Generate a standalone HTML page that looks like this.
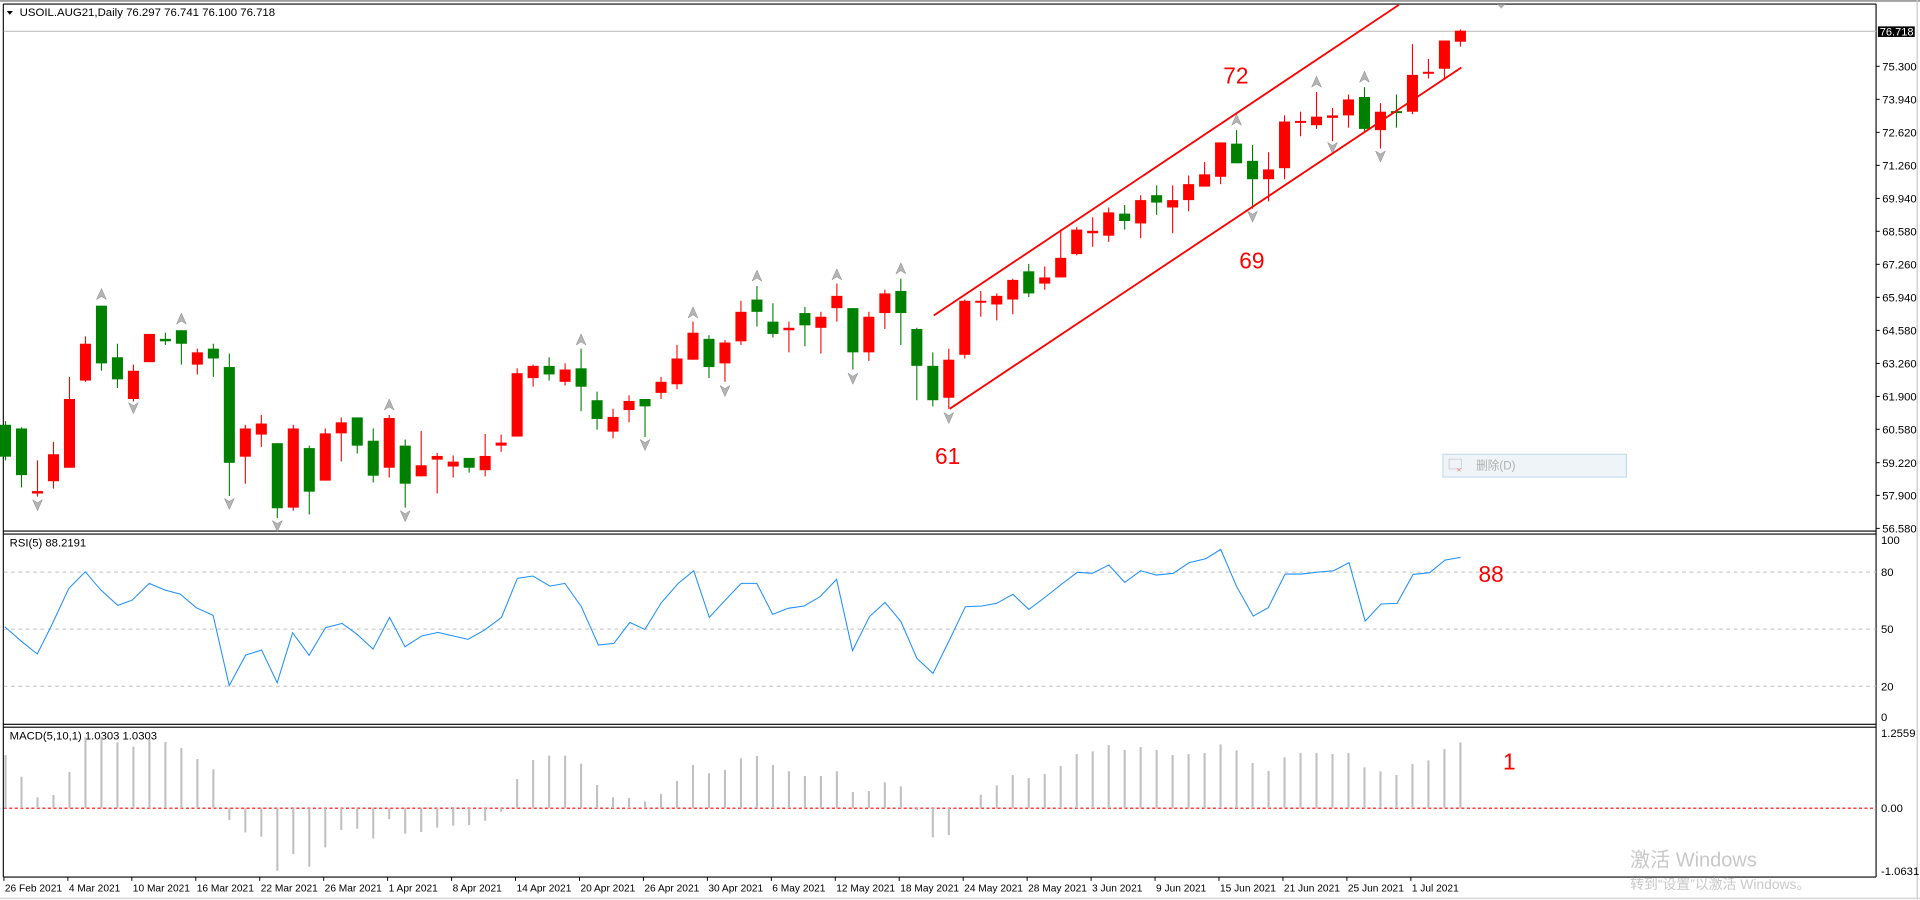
<!DOCTYPE html>
<html><head><meta charset="utf-8"><style>
html,body{margin:0;padding:0;background:#fff;width:1920px;height:900px;overflow:hidden}
svg{display:block}
text{font-family:"Liberation Sans","Noto Sans CJK SC",sans-serif}
</style></head><body>
<svg id="s" width="1920" height="900" viewBox="0 0 1564.8 733.1" preserveAspectRatio="none" xmlns="http://www.w3.org/2000/svg">
<rect x="0" y="0" width="1564.8" height="733.1" fill="#fff"/>
<line x1="0" y1="0.8" x2="1564.8" y2="0.8" stroke="#a0a0a0" stroke-width="1.5"/>
<line x1="2.7" y1="3.3" x2="1529" y2="3.3" stroke="#000" stroke-width="0.9"/>
<line x1="2.7" y1="3.3" x2="2.7" y2="714.4" stroke="#000" stroke-width="0.9"/>
<line x1="1529" y1="3.3" x2="1529" y2="714.4" stroke="#000" stroke-width="0.9"/>
<line x1="1562.5" y1="0" x2="1562.5" y2="733" stroke="#c8c8c8" stroke-width="1"/>
<line x1="2.7" y1="432.6" x2="1529" y2="432.6" stroke="#000" stroke-width="0.9"/>
<line x1="2.7" y1="435" x2="1529" y2="435" stroke="#000" stroke-width="0.9"/>
<line x1="2.7" y1="590" x2="1529" y2="590" stroke="#000" stroke-width="0.9"/>
<line x1="2.7" y1="592.3" x2="1529" y2="592.3" stroke="#000" stroke-width="0.9"/>
<line x1="2.7" y1="714.4" x2="1529" y2="714.4" stroke="#000" stroke-width="0.9"/>
<line x1="0" y1="731.8" x2="1564.8" y2="731.8" stroke="#d8d8d8" stroke-width="1.2"/>
<line x1="3" y1="25.5" x2="1529" y2="25.5" stroke="#c0c0c0" stroke-width="0.9"/>
<polygon points="5.5,9 10.5,9 8,12" fill="#000"/>
<text x="16" y="13" font-size="9.3" fill="#000">USOIL.AUG21,Daily  76.297 76.741 76.100 76.718</text>
<g stroke="#c0c0c0" stroke-width="0.8" stroke-dasharray="3,3">
<line x1="3" y1="466" x2="1529" y2="466"/><line x1="3" y1="512.5" x2="1529" y2="512.5"/><line x1="3" y1="559" x2="1529" y2="559"/>
</g>
<line x1="3" y1="658.3" x2="1529" y2="658.3" stroke="#ff0000" stroke-width="0.9" stroke-dasharray="2.5,2"/>
<text x="7.9" y="445" font-size="9.2" fill="#000">RSI(5) 88.2191</text>
<text x="7.9" y="602.5" font-size="9.2" fill="#000">MACD(5,10,1) 1.0303 1.0303</text>
<g id="g"></g>
<line x1="761" y1="257" x2="1140" y2="4" stroke="#ff0000" stroke-width="1.5"/>
<line x1="774" y1="333" x2="1191" y2="55" stroke="#ff0000" stroke-width="1.5"/>
<g fill="#ff0000" font-size="18.5">
<text x="997" y="68">72</text><text x="1010" y="218.7">69</text><text x="762" y="378">61</text>
<text x="1205" y="474">88</text><text x="1225" y="627">1</text>
</g>
<rect x="1530.5" y="21.5" width="30" height="8.6" fill="#000"/>
<text x="1532" y="28.8" font-size="9" fill="#fff">76.718</text>
<rect x="1176" y="370" width="149.5" height="18.6" fill="#eef4f7" stroke="#b9d7ea" stroke-width="0.8"/>
<rect x="1181" y="374" width="10" height="8" fill="none" stroke="#c8c8c8" stroke-width="0.6"/>
<text x="1187" y="385" font-size="7" fill="#f08080">×</text>
<text x="1203" y="382.5" font-size="9.5" fill="#b0b0b0">删除(D)</text>
<text x="1328.6" y="706" font-size="16.3" fill="#c8c8c8">激活 Windows</text>
<text x="1328.6" y="724" font-size="11.3" fill="#c8c8c8">转到“设置”以激活 Windows。</text>
<polygon points="1220,3.5 1227,3.5 1223.5,7" fill="#b0b0b0"/>
</svg>
<script>
var NS="http://www.w3.org/2000/svg",G=document.getElementById("g");
function el(t,a,txt){var e=document.createElementNS(NS,t);for(var k in a)e.setAttribute(k,a[k]);if(txt!=null)e.textContent=txt;G.appendChild(e);return e;}
function X(k){return 4.5+13.03*k;}
var C=[
['g',346,372,343,375],['g',349,387,348,397],['r',400,402,375,404.5],['r',370,392,360,398],['r',325,381,307,381],
['r',280,310,274,311],['g',249,296,249,302],['g',291,309,280,316],['r',302,325,297,327],['r',272,295,272,295],
['g',276,278,271,281],['g',269,280,269,297],['r',287,297,284,305],['g',284,292,280,307],['g',299,377,288,404],
['r',349,372,346,394],['r',345,354,338,364],['g',361,414,361,422],['r',349,413.5,346,416],['g',365,400.5,363,419],
['r',353,391.5,349,391.5],['r',344,353,340,376],['g',340,363,340,369.5],['g',359,387.5,349,393],['r',340.5,381,338,389],
['g',363,394,358,413.5],['r',379,388,351,388],['r',371.4,374.4,369,402],['r',376,380,371,389],['g',373,381,373,385],
['r',371.4,383,353.5,388],['r',360.5,363,354,368],['r',304,355.6,300,355.6],['r',298,308,297,315],['g',298,305,291,310],
['r',301,311,296,314],['g',300,315,284,335],['g',326,341.3,319,350],['r',339.6,351.6,333,357],['r',326.6,334,322,344],
['g',325,331,325,356],['r',311,320,307,325],['r',292,313,281,317],['r',271,293,262,293],['g',276,299,273,308],
['r',279,296,277,311],['r',254,278,245,281],['g',244,254,233,266],['g',262,272,247,275],['r',267,269,262,287],
['g',255,265,250,282],['r',258,267,254,288],['r',241,251,231,262],['g',251,287,251,301],['r',258,287,254,294],
['r',239,255,236,268],['g',237,255,227,281],['g',268,298,267,326],['g',298,326,287,331],['r',293,324,284,333],
['r',245,289,244,292],['r',245,246.5,237,258],['r',241,248,239,261],['r',228,244,227,256],['g',221,239,215,242],
['r',226,231,217,236],['r',210,226,187,226],['r',187,207,185,208],['r',188,190,177,201],['r',173,192,169,197],
['g',174,180,167,187],['r',163,182,159,194],['g',159,165,151,175],['r',163,169,151,190],['r',150,163,143,172],
['r',142,152,132,152],['r',116,144,116,150],['g',117,133,106,133],['g',131,146,118,170],['r',138,146,124,164],
['r',99,137,94,146],['r',98.5,100,91,111],['r',95,102,75,105],['r',94,96,88,115],['r',81,94,77,104],
['g',79,105,71,107],['r',91,106,84,121],['g',90.5,92,77,104],['r',61,91,36,93],['r',58.5,60,48,64],
['r',33,56,33,65],['r',25,34,24,38]];
var M1=[105,170,232,225,156,52,50,67,80,57,66,84,117,148,300,337,350,452,402,440,382,330,326,355,297,341,336,323,317,315,302,275,177,120,107,107,131,195,232,234,244,222,183,135,160,150,115,108];
var M2=[135,154,168,168,154,216,213,187,199,270,352,345,265,224,196,165,174,162,138,102,94,75,90,81,90,105,102,99,73,91,129,153,112,99,99,102,99,142,154,165,132,121,87,67];
var M=M1.concat(M2);
for(var i=0;i<M.length;i++){var yt=(720+M[i]/3)*0.8146,y0=658.3;if(Math.abs(yt-y0)<0.5)continue;
el('line',{x1:X(i),x2:X(i),y1:y0,y2:yt,stroke:'#c0c0c0','stroke-width':1.7});}
var R1=[[10,290],[45,335],[77,372],[105,290],[142,175],[176,125],[207,178],[243,226],[273,210],[308,160],[340,180],[372,192],[405,233],[440,256],[473,467],[507,375],[540,360],[572,458],[604,308],[638,376],[672,293],[706,280],[737,313],[770,357],[804,262],[836,350],[870,318],[904,307],[936,318],[966,328],[1000,300],[1035,262],[1068,145],[1100,138],[1135,168],[1166,160],[1200,230],[1235,345],[1267,340],[1300,277],[1331,298],[1365,218],[1400,160],[1432,122],[1464,262],[1497,210],[1530,160],[1562,160]];
var R2=[[68,253],[100,235],[133,228],[166,200],[200,148],[233,362],[268,260],[300,217],[333,275],[366,385],[399,430],[433,330],[466,230],[500,228],[530,220],[564,193],[597,238],[630,202],[665,162],[697,127],[728,130],[762,105],[795,157],[828,122],[860,135],[895,130],[928,98],[962,86],[993,58],[1026,170],[1060,258],[1091,233],[1126,132],[1160,132],[1193,126],[1226,122],[1258,98],[1291,273],[1324,222],[1357,220],[1390,133],[1424,128],[1456,90],[1488,82]];
var pts=[];R1.forEach(function(p){pts.push((p[0]/2.063*0.8146).toFixed(1)+','+((530+p[1]/3)*0.8146).toFixed(1));});
R2.forEach(function(p){pts.push(((740+p[0]/2.063)*0.8146).toFixed(1)+','+((530+p[1]/3)*0.8146).toFixed(1));});
el('polyline',{points:pts.join(' '),fill:'none',stroke:'#1e90ff','stroke-width':0.85});
C.forEach(function(c,k){var x=X(k),col=c[0]=='r'?'#ff0000':'#008000';
el('line',{x1:x,x2:x,y1:c[3],y2:c[4],stroke:col,'stroke-width':0.9});
var h=Math.max(c[2]-c[1],1.6);el('rect',{x:x-4.5,y:c[1],width:9,height:h,fill:col});});
var up=[[6,240],[11,260],[24,330],[36,277],[43,255],[47,225],[52,224],[56,219],[77,98],[82,67],[85,63]];
var dn=[[2,411],[8,332],[14,410],[17,428],[25,420],[40,362],[45,318],[53,308],[59,340],[78,176],[83,120],[86,127]];
up.forEach(function(a){var x=X(a[0]),y=a[1];el('polygon',{points:(x)+','+(y-5)+' '+(x+4)+','+(y+4)+' '+x+','+(y+1.5)+' '+(x-4)+','+(y+4),fill:'#b4b4b4',stroke:'#888','stroke-width':0.4});});
dn.forEach(function(a){var x=X(a[0]),y=a[1];el('polygon',{points:(x)+','+(y+5)+' '+(x+4)+','+(y-4)+' '+x+','+(y-1.5)+' '+(x-4)+','+(y-4),fill:'#b4b4b4',stroke:'#888','stroke-width':0.4});});
var P=[['75.300',54],['73.940',80.9],['72.620',107.8],['71.260',134.7],['69.940',161.6],['68.580',188.4],['67.260',215.3],['65.940',242.2],['64.580',269.1],['63.260',296],['61.900',322.9],['60.580',349.7],['59.220',376.9],['57.900',403.5],['56.580',430.4]];
P.forEach(function(p){el('line',{x1:1529,x2:1532,y1:p[1],y2:p[1],stroke:'#000','stroke-width':0.8});el('text',{x:1534,y:p[1]+3.3,'font-size':9.2,fill:'#000'},p[0]);});
var RL=[['100',440],['80',466],['50',512.5],['20',559],['0',584]];
RL.forEach(function(p){el('text',{x:1533,y:p[1]+3.3,'font-size':9.2,fill:'#000'},p[0]);});
[['1.2559',597],['0.00',658.3],['-1.0631',709.5]].forEach(function(p){el('text',{x:1533,y:p[1]+3.3,'font-size':9.2,fill:'#000'},p[0]);});
var D=['26 Feb 2021','4 Mar 2021','10 Mar 2021','16 Mar 2021','22 Mar 2021','26 Mar 2021','1 Apr 2021','8 Apr 2021','14 Apr 2021','20 Apr 2021','26 Apr 2021','30 Apr 2021','6 May 2021','12 May 2021','18 May 2021','24 May 2021','28 May 2021','3 Jun 2021','9 Jun 2021','15 Jun 2021','21 Jun 2021','25 Jun 2021','1 Jul 2021'];
D.forEach(function(d,i){var x=3.2+52.12*i;el('line',{x1:x,x2:x,y1:714.4,y2:717.5,stroke:'#000','stroke-width':0.8});el('text',{x:x+0.8,y:726,'font-size':8.3,fill:'#000'},d);});
</script>
</body></html>
